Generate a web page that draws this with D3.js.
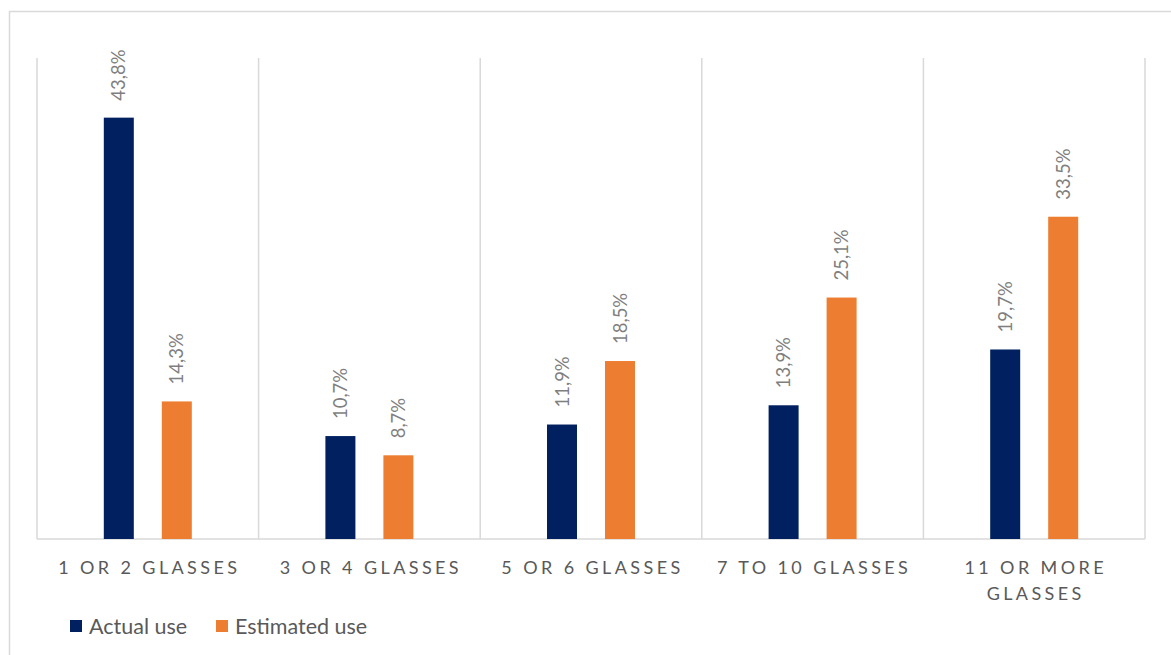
<!DOCTYPE html>
<html><head><meta charset="utf-8">
<script src="https://cdn.jsdelivr.net/npm/d3@7"></script>
<style>body{margin:0;background:#fff}svg{display:block}</style>
</head><body>
<script>
const categories = [["1 OR 2 GLASSES"], ["3 OR 4 GLASSES"], ["5 OR 6 GLASSES"], ["7 TO 10 GLASSES"], ["11 OR MORE", "GLASSES"]];
const seriesNames = ["Actual use", "Estimated use"];
const actualUse = [43.8, 10.7, 11.9, 13.9, 19.7];
const estimatedUse = [14.3, 8.7, 18.5, 25.1, 33.5];
const colors = ["#002060", "#ED7D31"];

(function () {
const W = 1171, H = 655;
const svg = d3.select("body").append("svg").attr("width", W).attr("height", H);
const font = "Lato, 'Open Sans', sans-serif";

svg.append("rect").attr("x", 9.5).attr("y", 11.5).attr("width", 1300).attr("height", 800)
  .attr("fill", "none").attr("stroke", "#d9d9d9").attr("stroke-width", 1.5);

const pL = 37, pR = 1145, pT = 58, pB = 539;
const x = d3.scaleBand().domain(d3.range(categories.length)).range([pL, pR]).padding(0);
const y = d3.scaleLinear().domain([0, 50]).range([pB, pT]);

const bounds = d3.range(categories.length + 1).map(i => i === categories.length ? pR : x(i));
svg.append("g").selectAll("line").data(bounds).join("line")
  .attr("x1", d => d).attr("x2", d => d).attr("y1", pT).attr("y2", pB)
  .attr("stroke", "#d9d9d9").attr("stroke-width", 1.5);
svg.append("line").attr("x1", pL).attr("x2", pR).attr("y1", pB).attr("y2", pB)
  .attr("stroke", "#d9d9d9").attr("stroke-width", 1.5);

const data = [];
categories.forEach((c, i) => {
  data.push({ cat: i, s: 0, v: actualUse[i] });
  data.push({ cat: i, s: 1, v: estimatedUse[i] });
});

const bw = 30;
const cx = d => x(d.cat) + x.bandwidth() / 2 + (d.s === 0 ? -29 : 29);
svg.append("g").selectAll("rect").data(data).join("rect")
  .attr("x", d => cx(d) - bw / 2).attr("width", bw)
  .attr("y", d => y(d.v)).attr("height", d => pB - y(d.v))
  .attr("fill", d => colors[d.s]);

svg.append("g").selectAll("text").data(data).join("text")
  .attr("transform", d => `translate(${cx(d) + 6.5},${y(d.v) - 17}) rotate(-90)`)
  .attr("font-family", font).attr("font-size", 18.5).attr("fill", "#7f7f7f")
  .text(d => d.v.toFixed(1).replace(".", ",") + "%");

const cl = svg.append("g");
categories.forEach((lines, i) => {
  lines.forEach((t, j) => {
    cl.append("text").attr("x", x(i) + x.bandwidth() / 2 + 1.5).attr("y", 574 + j * 26)
      .attr("text-anchor", "middle").attr("font-family", font).attr("font-size", 18)
      .attr("letter-spacing", 3.4).attr("fill", "#595959").text(t);
  });
});

const legX = [70, 216];
seriesNames.forEach((n, i) => {
  svg.append("rect").attr("x", legX[i]).attr("y", 620).attr("width", 12).attr("height", 12).attr("fill", colors[i]);
  svg.append("text").attr("x", legX[i] + 19).attr("y", 634).attr("font-family", font).attr("font-size", 21.5)
    .attr("fill", "#595959").text(n);
});
})();
</script>
</body></html>
